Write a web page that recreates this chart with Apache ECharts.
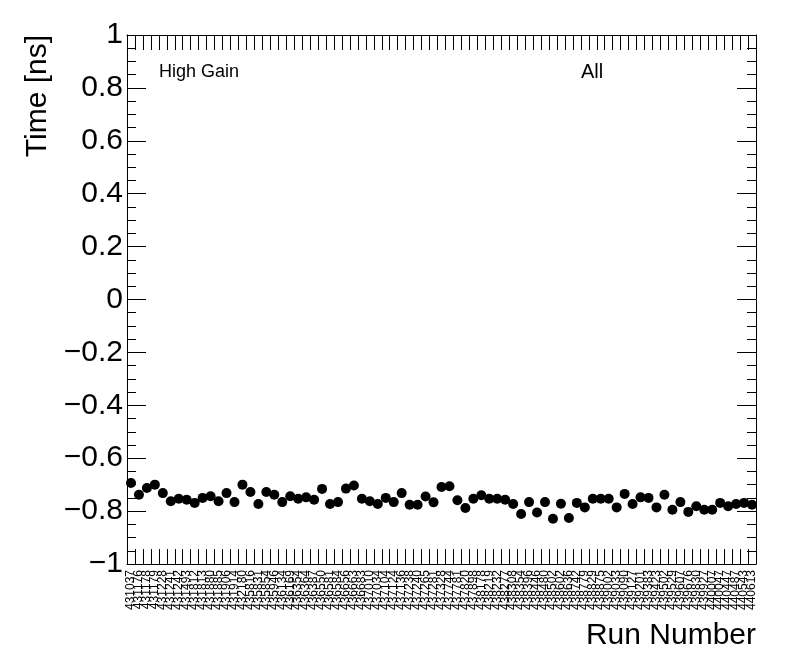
<!DOCTYPE html>
<html>
<head>
<meta charset="utf-8">
<script src="https://cdn.jsdelivr.net/npm/echarts@6/dist/echarts.min.js"></script>
<style>
html,body{margin:0;padding:0;background:#fff;}
#c{width:796px;height:672px;}
</style>
</head>
<body>
<div id="c"></div>
<script>
const runNumbers = ['431037','431176','431178','431179','431228','431241','431242','431493','431812','431813',
'431880','431885','431906','431914','432180','435816','435831','435854','435946','436134',
'436169','436354','436364','436387','436550','436581','436584','436656','436663','436683',
'437010','437034','437104','437124','437136','437238','437240','437265','437281','437328',
'437744','437781','437820','437898','438178','438219','438232','438277','438308','438354',
'438396','438446','438480','438502','438602','438636','438742','438779','438829','438875',
'439002','439033','439090','439127','439201','439383','439423','439502','439529','439607',
'439676','439830','439927','440007','440047','440447','440487','440543','440613'];

const timeValues = [-0.694,-0.738,-0.713,-0.700,-0.732,-0.763,-0.753,-0.757,-0.769,-0.750,
-0.744,-0.763,-0.732,-0.766,-0.700,-0.728,-0.773,-0.728,-0.738,-0.766,
-0.744,-0.753,-0.748,-0.757,-0.716,-0.773,-0.766,-0.715,-0.703,-0.753,
-0.763,-0.773,-0.750,-0.766,-0.732,-0.776,-0.776,-0.745,-0.767,-0.709,
-0.706,-0.759,-0.788,-0.753,-0.740,-0.753,-0.753,-0.757,-0.773,-0.811,
-0.766,-0.805,-0.766,-0.829,-0.772,-0.826,-0.769,-0.786,-0.753,-0.753,
-0.753,-0.786,-0.735,-0.773,-0.748,-0.750,-0.786,-0.738,-0.795,-0.766,
-0.803,-0.782,-0.795,-0.795,-0.769,-0.782,-0.773,-0.769,-0.776];

const yTicks = [-1,-0.8,-0.6,-0.4,-0.2,0,0.2,0.4,0.6,0.8,1];

const FONT = 'Liberation Sans';
const chart = echarts.init(document.getElementById('c'), null, {renderer:'canvas'});

function fmtY(v){
  const r = Math.round(v*10)/10;
  if (Math.abs(r) < 1e-9) return '0';
  return r < 0 ? '\u2212' + String(Math.abs(r)) : String(r);
}

const baseX = {
  type:'category',
  data: runNumbers,
  boundaryGap: true,
  axisLine:{show:true, onZero:false, lineStyle:{color:'#000', width:1}},
  axisTick:{show:true, inside:true, length:15, interval:0, lineStyle:{color:'#000', width:1}},
  splitLine:{show:false}
};
const baseY = {
  type:'value',
  min:-1, max:1, interval:0.2,
  axisLine:{show:true, onZero:false, lineStyle:{color:'#000', width:1}},
  axisTick:{show:true, inside:true, length:19, lineStyle:{color:'#000', width:1}},
  minorTick:{show:true, splitNumber:4, length:9, lineStyle:{color:'#000', width:1}},
  splitLine:{show:false}
};

chart.setOption({
  backgroundColor:'#fff',
  animation:false,
  grid:{left:127, right:40, top:35, bottom:108, containLabel:false},
  xAxis:[
    Object.assign({}, baseX, {position:'bottom',
      axisLabel:{show:true, rotate:90, interval:0, margin:6, fontSize:12, fontFamily:FONT, color:'#000'}}),
    Object.assign({}, baseX, {position:'top', axisLabel:{show:false}})
  ],
  yAxis:[
    Object.assign({}, baseY, {position:'left',
      axisLabel:{show:true, margin:4, fontSize:30, fontFamily:FONT, color:'#000', formatter:fmtY}}),
    Object.assign({}, baseY, {position:'right', axisLabel:{show:false}})
  ],
  series:[{
    type:'scatter',
    xAxisIndex:0, yAxisIndex:0,
    data: timeValues,
    symbol:'circle',
    symbolSize:10,
    itemStyle:{color:'#000', opacity:1}
  }],
  graphic:[
    {type:'text', left:159, top:63, style:{text:'High Gain', font:'18px "Liberation Sans"', fill:'#000'}},
    {type:'text', left:581, top:62, style:{text:'All', font:'20px "Liberation Sans"', fill:'#000'}},
    {type:'text', right:40, top:621, style:{text:'Run Number', font:'30px "Liberation Sans"', fill:'#000'}},
    {type:'text', x:38, y:35, rotation:Math.PI/2,
      style:{text:'Time [ns]', font:'30px "Liberation Sans"', fill:'#000', align:'right', verticalAlign:'middle', textAlign:'right', textVerticalAlign:'middle'}}
  ]
});
</script>
</body>
</html>
